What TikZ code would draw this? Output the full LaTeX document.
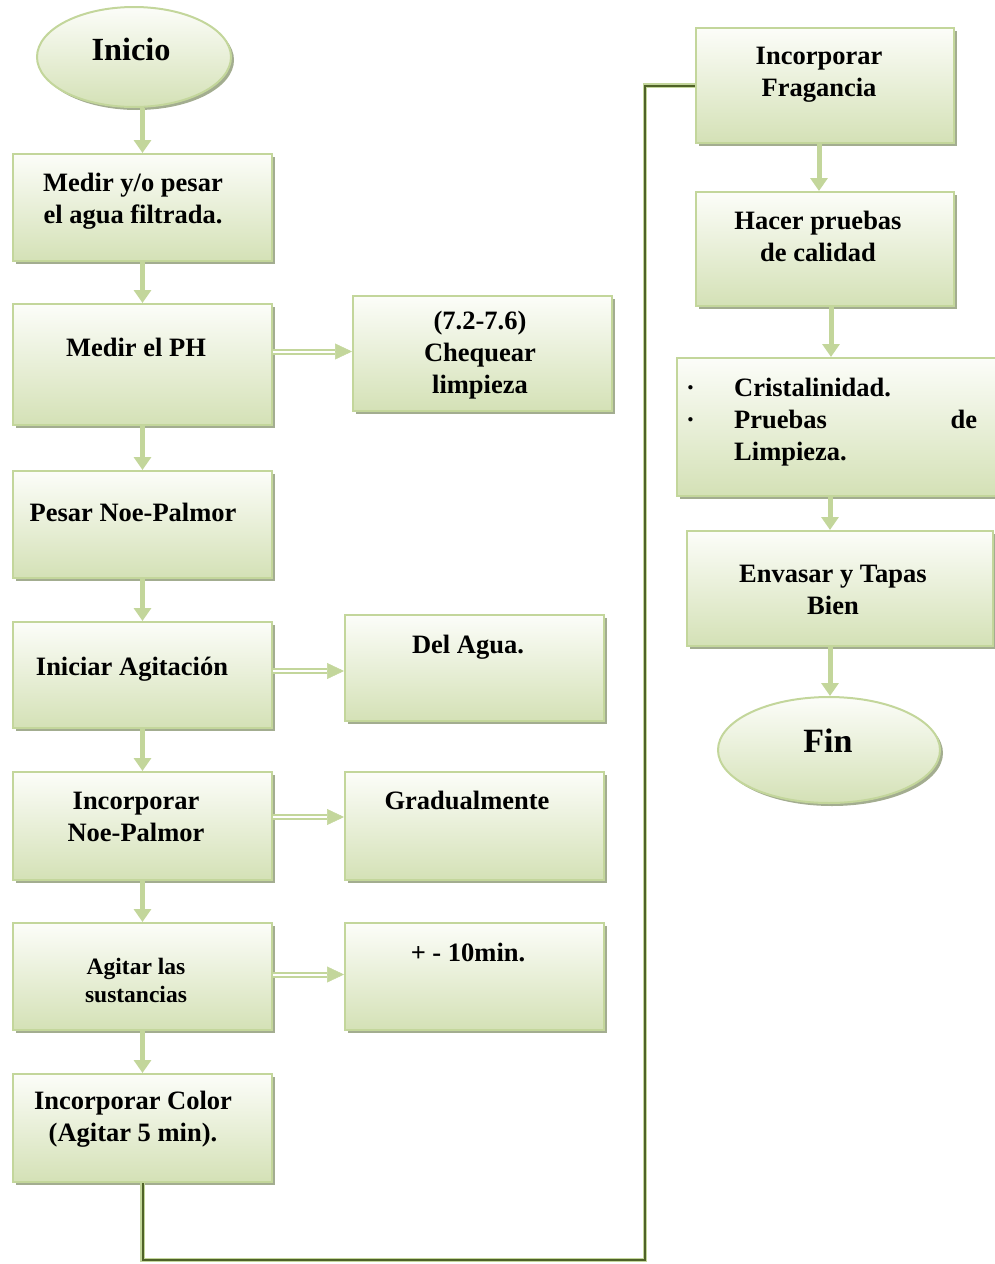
\documentclass[tikz,border=0pt]{standalone}
\usepackage{fontspec}
\setmainfont{Liberation Serif}
\usetikzlibrary{shapes.geometric,shadows,arrows.meta,calc}
\definecolor{lg}{HTML}{C3D69B}
\definecolor{btop}{HTML}{FCFDF9}
\definecolor{bbot}{HTML}{D4E1B6}
\definecolor{shc}{HTML}{A3AD90}
\definecolor{dg}{HTML}{4F6228}
\begin{document}
\begin{tikzpicture}[x=1pt,y=-1pt,
  box/.style={rectangle, draw=lg, line width=2pt, top color=btop, bottom color=bbot,
    anchor=north west, inner sep=0pt,
    drop shadow={shadow xshift=3pt, shadow yshift=-3pt, fill=shc, opacity=1}},
  oval/.style={ellipse, draw=lg, line width=2pt, top color=btop, bottom color=bbot,
    inner sep=0pt,
    drop shadow={shadow xshift=3pt, shadow yshift=-3pt, fill=shc, opacity=1}},
  txt/.style={font=\bfseries\fontsize{26.5}{32}\selectfont, align=center, inner sep=0pt},
  varr/.style={draw=lg, line width=5pt, -{Triangle[length=13pt,width=17pt]}},
  hline/.style={draw=lg, line width=2pt, double=white, double distance=2pt},
  hhead/.style={draw=lg, fill=lg, line width=0.5pt, -{Triangle[length=17pt,width=16pt]}},
]
\useasboundingbox (0,0) rectangle (995,1264);

% ---- nodes ----
\node[oval, minimum width=194pt, minimum height=100pt] (inicio) at (134,57) {};
\node[txt, font=\bfseries\fontsize{32.3}{36}\selectfont] (tinicio) at (131,49) {Inicio};

\node[box, minimum width=259pt, minimum height=107pt] (b1) at (12,153) {};
\node[txt] (t1) at (133,201) {Medir y/o pesar\\el agua filtrada.};

\node[box, minimum width=259pt, minimum height=121pt] (b2) at (12,303) {};
\node[txt] (t2) at (136,347) {Medir el PH};

\node[box, minimum width=259pt, minimum height=115pt] (ph) at (352,295) {};
\node[txt] (tph) at (480,355) {(7.2-7.6)\\Chequear\\limpieza};

\node[box, minimum width=259pt, minimum height=107pt] (b3) at (12,470) {};
\node[txt] (t3) at (133,512) {Pesar Noe-Palmor};

\node[box, minimum width=259pt, minimum height=106pt] (b4) at (12,621) {};
\node[txt] (t4) at (132,669) {Iniciar Agitación};

\node[box, minimum width=259pt, minimum height=106pt] (agua) at (344,614) {};
\node[txt] (tagua) at (468,647) {Del Agua.};

\node[box, minimum width=259pt, minimum height=108pt] (b5) at (12,771) {};
\node[txt] (t5) at (136,817) {Incorporar\\Noe-Palmor};

\node[box, minimum width=259pt, minimum height=108pt] (grad) at (344,771) {};
\node[txt] (tgrad) at (467,800) {Gradualmente};

\node[box, minimum width=259pt, minimum height=107pt] (b6) at (12,922) {};
\node[txt, font=\bfseries\fontsize{23.5}{28}\selectfont] (t6) at (136,980) {Agitar las\\sustancias};

\node[box, minimum width=259pt, minimum height=107pt] (mins) at (344,922) {};
\node[txt] (tmins) at (468,952) {+ - 10min.};

\node[box, minimum width=259pt, minimum height=108pt] (b7) at (12,1073) {};
\node[txt] (t7) at (133,1119) {Incorporar Color\\(Agitar 5 min).};

\node[box, minimum width=258pt, minimum height=115pt] (r1) at (695,27) {};
\node[txt] (tr1) at (819,75) {Incorporar\\Fragancia};

\node[box, minimum width=258pt, minimum height=114pt] (r2) at (695,191) {};
\node[txt] (tr2) at (818,236) {Hacer pruebas\\de calidad};

\node[box, minimum width=330pt, minimum height=138pt] (r3) at (676,357) {};
\node[txt, align=left, anchor=north west] (tr3) at (686,378)
  {\makebox[48pt][l]{·}Cristalinidad.\\
   \makebox[48pt][l]{·}\makebox[243pt][s]{Pruebas\hfill de}\\
   \hspace*{48pt}Limpieza.};

\node[box, minimum width=306pt, minimum height=115pt] (r4) at (686,530) {};
\node[txt] (tr4) at (833,590) {Envasar y Tapas\\Bien};

\node[oval, minimum width=222pt, minimum height=106pt] (fin) at (829,750) {};
\node[txt, font=\bfseries\fontsize{34}{40}\selectfont] (tfin) at (828,741) {Fin};

% ---- vertical arrows ----
\draw[varr] (b1.north |- inicio.south) -- (b1.north);
\draw[varr] (b1.south) -- (b2.north);
\draw[varr] (b2.south) -- (b3.north);
\draw[varr] (b3.south) -- (b4.north);
\draw[varr] (b4.south) -- (b5.north);
\draw[varr] (b5.south) -- (b6.north);
\draw[varr] (b6.south) -- (b7.north);

\coordinate (xa) at (819,0);
\coordinate (xb) at (831,0);
\coordinate (xc) at (830,0);
\draw[varr] (r1.south -| xa) -- (r2.north -| xa);
\draw[varr] (r2.south -| xb) -- (r3.north -| xb);
\draw[varr] (r3.south -| xc) -- (r4.north -| xc);
\draw[varr] (r4.south -| xc) -- (fin.north -| xc);

% ---- horizontal double arrows ----
\coordinate (h1) at ($(ph.west)+(-17,-2)$);
\draw[hline] (b2.east |- h1) -- (h1);
\draw[hhead] (h1) -- ($(ph.west)+(0,-2)$);

\coordinate (h2) at ($(agua.west)+(-17,3)$);
\draw[hline] (b4.east |- h2) -- (h2);
\draw[hhead] (h2) -- ($(agua.west)+(0,3)$);

\coordinate (h3) at ($(grad.west)+(-17,-9)$);
\draw[hline] (b5.east |- h3) -- (h3);
\draw[hhead] (h3) -- ($(grad.west)+(0,-9)$);

\coordinate (h4) at ($(mins.west)+(-17,-2)$);
\draw[hline] (b6.east |- h4) -- (h4);
\draw[hhead] (h4) -- ($(mins.west)+(0,-2)$);

% ---- long connector ----
\coordinate (c1) at (645,1260);
\draw[lg, line width=4.5pt] (b7.south) -- (b7.south |- c1) -- (c1) -- (c1 |- r1.west) -- (r1.west);
\draw[dg, line width=2pt] (b7.south) -- (b7.south |- c1) -- (c1) -- (c1 |- r1.west) -- (r1.west);
\end{tikzpicture}
\end{document}
